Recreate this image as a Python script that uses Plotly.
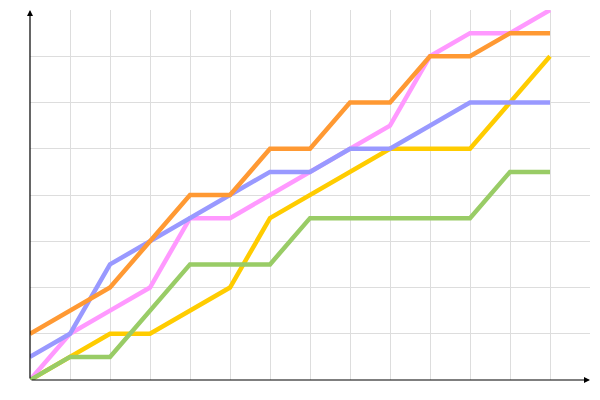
import plotly.graph_objects as go

x = list(range(14))
orange = [1, 1.5, 2, 3, 4, 4, 5, 5, 6, 6, 7, 7, 7.5, 7.5]
blue = [0.5, 1, 2.5, 3, 3.5, 4, 4.5, 4.5, 5, 5, 5.5, 6, 6, 6]
pink = [0, 1, 1.5, 2, 3.5, 3.5, 4, 4.5, 5, 5.5, 7, 7.5, 7.5, 8]
yellow = [0, 0.5, 1, 1, 1.5, 2, 3.5, 4, 4.5, 5, 5, 5, 6, 7]
green = [0, 0.5, 0.5, 1.5, 2.5, 2.5, 2.5, 3.5, 3.5, 3.5, 3.5, 3.5, 4.5, 4.5]

series = [
    ("yellow", yellow, "#ffcc00"),
    ("pink", pink, "#ff99ff"),
    ("blue", blue, "#9999ff"),
    ("orange", orange, "#ff9933"),
    ("green", green, "#99cc66"),
]

fig = go.Figure()
for name, ys, col in series:
    fig.add_trace(go.Scatter(x=x, y=ys, mode="lines", name=name,
                             line=dict(color=col, width=4.5)))

fig.update_layout(
    width=592, height=392,
    margin=dict(l=22, r=10, t=2, b=20),
    plot_bgcolor="white", paper_bgcolor="white",
    showlegend=False,
    xaxis=dict(range=[0, 14], tickvals=list(range(1, 14)), showticklabels=False,
               showgrid=True, gridcolor="#dddddd", gridwidth=1, zeroline=False,
               ticks=""),
    yaxis=dict(range=[0, 8], tickvals=list(range(1, 8)), showticklabels=False,
               showgrid=True, gridcolor="#dddddd", gridwidth=1, zeroline=False,
               ticks=""),
)
fig.add_annotation(x=14, y=0, ax=0, ay=0, xref="x", yref="y", axref="x", ayref="y",
                   showarrow=True, arrowhead=2, arrowsize=1, arrowwidth=1.2,
                   arrowcolor="black", text="")
fig.add_annotation(x=0, y=8, ax=0, ay=0, xref="x", yref="y", axref="x", ayref="y",
                   showarrow=True, arrowhead=2, arrowsize=1, arrowwidth=1.2,
                   arrowcolor="black", text="")
fig.write_html("out.html")
